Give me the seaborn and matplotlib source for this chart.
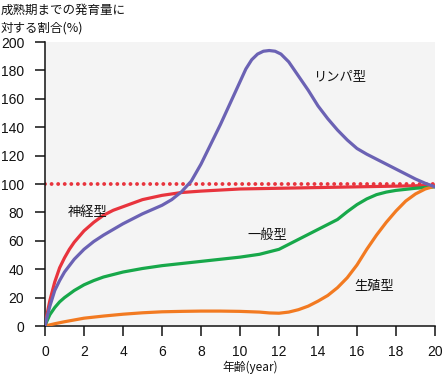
import numpy as np
import pandas as pd
import matplotlib
matplotlib.use("Agg")
import matplotlib.pyplot as plt
import seaborn as sns

# ---- data ----
lymph_age = [0, 0.1, 0.25, 0.5, 0.75, 1, 1.5, 2, 2.5, 3, 3.5, 4, 5, 6, 6.5, 7, 7.5, 8, 8.5, 9, 9.5, 10, 10.3, 10.6, 10.9, 11.2, 11.5, 11.8, 12.1, 12.5, 13, 13.5, 14, 14.5, 15, 15.5, 16, 16.5, 17, 17.5, 18, 18.5, 19, 19.5, 20]
lymph_val = [0, 6, 14, 25, 32, 38, 47, 54, 59.5, 64, 68, 72, 79, 85, 89, 94.5, 102, 114, 128, 142, 157, 172, 181, 187.5, 191.5, 193.5, 194, 193.5, 191.5, 186, 176, 166, 155, 146, 138, 131, 125, 121, 117.5, 114, 110.5, 107, 103.5, 100.5, 98]

neural_age = [0, 0.1, 0.25, 0.5, 0.75, 1, 1.25, 1.5, 2, 2.5, 3, 3.5, 4, 5, 6, 7, 8, 10, 12, 14, 16, 18, 20]
neural_val = [0, 8, 18, 31, 41, 48, 54, 59, 67, 73, 78, 81.5, 84, 89, 92, 94, 95, 96.5, 97, 97.5, 98, 98.5, 99]

general_age = [0, 0.1, 0.25, 0.5, 0.75, 1, 1.5, 2, 2.5, 3, 4, 5, 6, 7, 8, 9, 10, 11, 12, 12.5, 13, 13.5, 14, 14.5, 15, 15.5, 16, 16.5, 17, 17.5, 18, 19, 20]
general_val = [0, 3.5, 8, 13, 17, 20, 25, 29, 32, 34.5, 38, 40.5, 42.5, 44, 45.5, 47, 48.5, 50.5, 54, 57.5, 61, 64.5, 68, 71.5, 75, 80.5, 85.5, 89.5, 92.5, 94.3, 95.5, 97, 98]

repro_age = [0, 0.5, 1, 2, 3, 4, 5, 6, 7, 8, 9, 10, 11, 11.5, 12, 12.5, 13, 13.5, 14, 14.5, 15, 15.5, 16, 16.5, 17, 17.5, 18, 18.5, 19, 19.5, 20]
repro_val = [0, 1.6, 3, 5.5, 7, 8.3, 9.3, 10, 10.3, 10.5, 10.5, 10.3, 9.8, 9.2, 9, 9.8, 11.5, 14, 17.5, 21.5, 27, 34, 43, 54, 64, 73, 81, 88, 93, 96.5, 98.5]

ref_age = [0, 20]
ref_val = [100, 100]

labels = ["リンパ型", "神経型", "一般型", "生殖型"]
label_pos_x = [15.1, 2.2, 11.4, 16.9]
label_pos_y = [176, 80, 64, 28]

x_ticks = list(range(0, 21, 2))
y_ticks = list(range(0, 201, 20))

# ---- style ----
sns.set_theme(style="ticks")
plt.rcParams['font.family'] = ['Noto Sans CJK JP', 'DejaVu Sans']

c_lymph = "#6b62b4"
c_neural = "#e8343d"
c_general = "#17a84a"
c_repro = "#f27a21"

fig = plt.figure(figsize=(4.43, 3.8), dpi=100)
ax = fig.add_axes([45/443, 1-326/380, 390/443, 284/380])
ax.set_facecolor("#f4f4f4")

lw = 2.3
ax.plot(ref_age, ref_val, color=c_neural, lw=2.8, linestyle=(0, (0.01, 1.68)),
        dash_capstyle="round", zorder=2)
sns.lineplot(x=neural_age, y=neural_val, ax=ax, color=c_neural, lw=lw, sort=False, estimator=None, zorder=3)
sns.lineplot(x=general_age, y=general_val, ax=ax, color=c_general, lw=lw, sort=False, estimator=None, zorder=3)
sns.lineplot(x=repro_age, y=repro_val, ax=ax, color=c_repro, lw=lw, sort=False, estimator=None, zorder=3)
sns.lineplot(x=lymph_age, y=lymph_val, ax=ax, color=c_lymph, lw=lw, sort=False, estimator=None, zorder=3)

for t, x, y in zip(labels, label_pos_x, label_pos_y):
    ax.text(x, y, t, fontsize=9.5, ha="center", va="center", color="#111111")

ax.set_xlim(0, 20)
ax.set_ylim(0, 200)
ax.set_xticks(x_ticks)
ax.set_yticks(y_ticks)
ax.set_xticklabels([str(v) for v in x_ticks], family=['Liberation Sans', 'Noto Sans CJK JP'], fontsize=10)
ax.set_yticklabels([str(v) for v in y_ticks], family=['Liberation Sans', 'Noto Sans CJK JP'], fontsize=10)
ax.tick_params(axis="both", direction="out", length=7, width=1.1, color="#111111", labelcolor="#111111")
ax.tick_params(axis="x", pad=7)
ax.tick_params(axis="y", pad=8)
for s in ["top", "right"]:
    ax.spines[s].set_visible(False)
for s in ["left", "bottom"]:
    ax.spines[s].set_color("#111111")
    ax.spines[s].set_linewidth(1.1)
ax.set_xlabel("")
ax.set_ylabel("")

fig.text(250/443, 1-367/380, "年齢(year)", ha="center", va="center", fontsize=8.5, color="#111111")
fig.text(1/443, 1-10/380, "成熟期までの発育量に", ha="left", va="center", fontsize=9, color="#111111")
fig.text(1/443, 1-28/380, "対する割合(%)", ha="left", va="center", fontsize=9, color="#111111")

fig.savefig("out.png", dpi=100, facecolor="white")
